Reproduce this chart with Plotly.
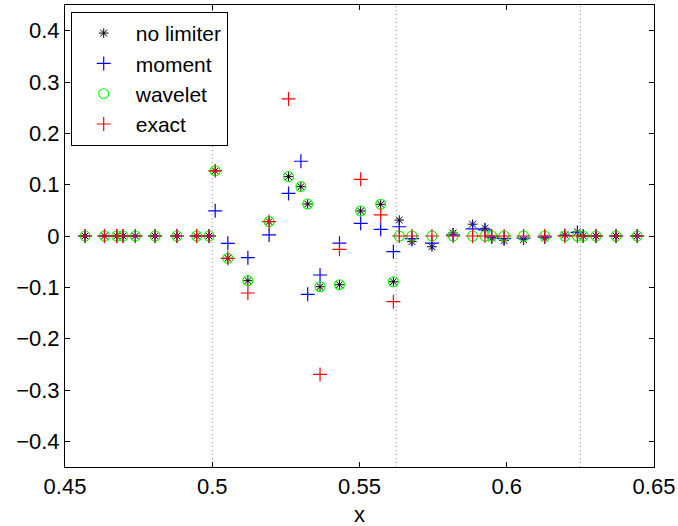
import plotly.graph_objects as go

# sample positions
x_vals = [0.4568, 0.4634, 0.4676, 0.4697, 0.4739, 0.4806, 0.4880, 0.4947, 0.4989,
          0.5010, 0.5053, 0.5121, 0.5193, 0.5259, 0.5301, 0.5324, 0.5366, 0.5432, 0.5504, 0.5572, 0.5615,
          0.5635, 0.5678, 0.5746, 0.5818, 0.5884, 0.5926, 0.5949, 0.5991, 0.6057, 0.6129, 0.6197, 0.6240,
          0.6260, 0.6303, 0.6371, 0.6443]

no_limiter = [0, 0, 0, 0, 0, 0, 0, 0, 0,
              0.127, -0.0435, -0.087, 0.028, 0.1156, 0.0961, 0.0624, -0.0988, -0.0949, 0.0487, 0.0618, -0.0891,
              0.031, -0.011, -0.021, 0.006, 0.023, 0.015, -0.004, -0.009, -0.007, -0.004, 0.002, 0.008,
              0, 0, 0, 0]

moment = [0, 0, 0, 0, 0, 0, 0, 0, 0,
          0.049, -0.0143, -0.0422, 0.002, 0.083, 0.1456, -0.1137, -0.076, -0.014, 0.0247, 0.013, -0.0306,
          0.018, -0.005, -0.014, 0.002, 0.014, 0.012, -0.002, -0.005, -0.004, -0.002, 0.001, 0.007,
          0, 0, 0, 0]

wavelet = [0, 0, 0, 0, 0, 0, 0, 0, 0,
           0.127, -0.0435, -0.087, 0.028, 0.1156, 0.0961, 0.0624, -0.0988, -0.0949, 0.0487, 0.0618, -0.0891,
           0, 0, 0, 0, 0, 0, 0, 0, 0, 0, 0, 0,
           0, 0, 0, 0]

exact = [0, 0, 0, 0, 0, 0, 0, 0, 0,
         0.127, -0.0435, -0.111, 0.028, 0.267, None, None, -0.2696, -0.026, 0.1105, 0.041, -0.128,
         0, 0, 0, 0, 0, 0, 0, 0, 0, 0, 0, 0,
         0, 0, 0, 0]

cell_edges = [0.5, 0.5625, 0.625]

x_ticks = [0.45, 0.5, 0.55, 0.6, 0.65]
x_tick_labels = ["0.45", "0.5", "0.55", "0.6", "0.65"]
y_ticks = [-0.4, -0.3, -0.2, -0.1, 0, 0.1, 0.2, 0.3, 0.4]
y_tick_labels = ["\u22120.4", "\u22120.3", "\u22120.2", "\u22120.1", "0", "0.1", "0.2", "0.3", "0.4"]
x_label = "x"

FONT = "Liberation Sans, Arial, Helvetica, sans-serif"

fig = go.Figure()
fig.add_trace(go.Scatter(x=x_vals, y=no_limiter, mode="markers", name="no limiter",
                         marker=dict(symbol="asterisk-open", size=8, color="black",
                                     line=dict(color="black", width=1))))
fig.add_trace(go.Scatter(x=x_vals, y=moment, mode="markers", name="moment",
                         marker=dict(symbol="cross-thin-open", size=10, color="blue",
                                     line=dict(color="#0000ff", width=1.2))))
fig.add_trace(go.Scatter(x=x_vals, y=wavelet, mode="markers", name="wavelet",
                         marker=dict(symbol="circle-open", size=10, color="#00ff00",
                                     line=dict(color="#00ff00", width=1.1))))
fig.add_trace(go.Scatter(x=x_vals, y=exact, mode="markers", name="exact",
                         marker=dict(symbol="cross-thin-open", size=10, color="red",
                                     line=dict(color="#ff0000", width=1.2))))

for xe in cell_edges:
    fig.add_shape(type="line", x0=xe, x1=xe, y0=0, y1=1, xref="x", yref="paper",
                  line=dict(color="#8a8a8a", width=1, dash="1px,3px"), layer="below")

fig.add_annotation(text=x_label, xref="paper", yref="paper", x=0.5, y=-0.102,
                   xanchor="center", yanchor="middle", showarrow=False,
                   font=dict(family=FONT, size=22, color="black"))

fig.update_layout(
    width=678, height=526,
    margin=dict(l=65, r=24, t=5, b=59),
    paper_bgcolor="white", plot_bgcolor="white",
    font=dict(family=FONT, size=22, color="black"),
    showlegend=True,
    legend=dict(x=0.0097, y=0.985, xanchor="left", yanchor="top",
                bgcolor="white", bordercolor="black", borderwidth=1,
                font=dict(size=21), tracegroupgap=0, itemwidth=54),
    xaxis=dict(range=[0.45, 0.65], tickvals=x_ticks, ticktext=x_tick_labels,
               ticks="inside", ticklen=5, tickcolor="black", showline=True, mirror="ticks",
               linecolor="black", linewidth=1, showgrid=False, zeroline=False,
               automargin=False),
    yaxis=dict(range=[-0.45, 0.45], tickvals=y_ticks, ticktext=y_tick_labels,
               ticks="inside", ticklen=5, tickcolor="black", showline=True, mirror="ticks",
               linecolor="black", linewidth=1, showgrid=False, zeroline=False,
               automargin=False),
)

fig.write_html("out.html")
